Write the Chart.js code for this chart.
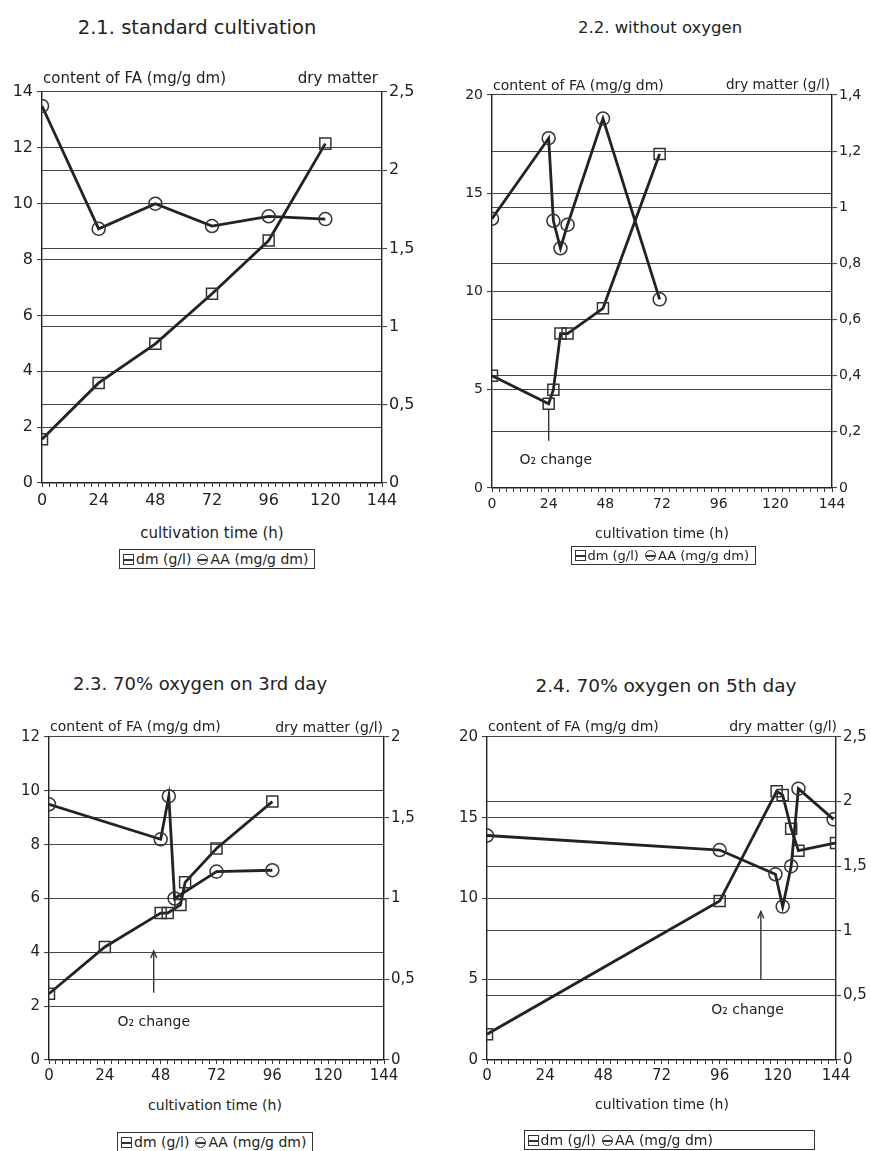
<!DOCTYPE html>
<html><head><meta charset="utf-8">
<script src="https://cdn.jsdelivr.net/npm/chart.js@4.4.1/dist/chart.umd.min.js"></script>
<style>
body{margin:0;background:#fff;width:871px;height:1151px;position:relative;overflow:hidden;font-family:"DejaVu Sans",sans-serif;color:#222}
.t{position:absolute;white-space:nowrap;line-height:1}
canvas{position:absolute}
.lg{position:absolute;border:1px solid #333;white-space:nowrap;padding:2px 6px 2px 3px;line-height:1;color:#222}
.sq,.ci{display:inline-block;width:9px;height:9px;border:1px solid #333;vertical-align:-1px;margin-right:2px;
 background:linear-gradient(#333,#333) center/100% 2px no-repeat}
.ci{border-radius:50%;margin-left:6px}
</style></head><body>
<script>
// ---------- data ----------
const xTickLabels = [0,24,48,72,96,120,144];

// 2.1 standard cultivation
const p1_aa_t = [0,24,48,72,96,120];
const p1_aa   = [13.5,9.1,10.0,9.2,9.55,9.45];
const p1_dm_t = [0,24,48,72,96,120];
const p1_dm   = [0.28,0.64,0.89,1.21,1.55,2.17];
const p1_left_ticks  = [0,2,4,6,8,10,12,14];
const p1_right_ticks = [0,0.5,1,1.5,2,2.5];

// 2.2 without oxygen
const p2_aa_t = [0,24,26,29,32,47,71];
const p2_aa   = [13.7,17.8,13.6,12.2,13.4,18.8,9.6];
const p2_dm_t = [0,24,26,29,32,47,71];
const p2_dm   = [0.40,0.30,0.35,0.55,0.55,0.64,1.19];
const p2_left_ticks  = [0,5,10,15,20];
const p2_right_ticks = [0,0.2,0.4,0.6,0.8,1,1.2,1.4];

// 2.3 70% oxygen on 3rd day
const p3_aa_t = [0,48,51.5,54,72,96];
const p3_aa   = [9.5,8.2,9.8,6.0,7.0,7.05];
const p3_dm_t = [0,24,48,51,56.5,58.5,72,96];
const p3_dm   = [0.41,0.70,0.91,0.91,0.96,1.10,1.31,1.60];
const p3_left_ticks  = [0,2,4,6,8,10,12];
const p3_right_ticks = [0,0.5,1,1.5,2];

// 2.4 70% oxygen on 5th day
const p4_aa_t = [0,96,119,122,125.5,128.5,143];
const p4_aa   = [13.9,13.0,11.5,9.5,12.0,16.8,14.9];
const p4_dm_t = [0,96,119.5,122,125.5,128.5,144];
const p4_dm   = [0.20,1.23,2.08,2.05,1.79,1.62,1.68];
const p4_left_ticks  = [0,5,10,15,20];
const p4_right_ticks = [0,0.5,1,1.5,2,2.5];

const titles = ["2.1. standard cultivation","2.2. without oxygen","2.3. 70% oxygen on 3rd day","2.4. 70% oxygen on 5th day"];
const leftHeader = "content of FA (mg/g dm)";
const rightHeaders = ["dry matter","dry matter (g/l)","dry matter (g/l)","dry matter (g/l)"];
const xTitle = "cultivation time (h)";
const noteText = "O\u2082 change";

// ---------- helpers ----------
const zip = (t,v) => t.map((x,i)=>({x, y:v[i]}));
const fmtComma = v => String(Math.round(v*10)/10).replace('.',',');
const INK = '#222';

const notePlugin = {
  id:'note',
  afterDatasetsDraw(chart, args, o){
    if(!o || o.x === undefined) return;
    const c = chart.ctx, xs = chart.scales.x, ys = chart.scales.yL;
    const x = xs.getPixelForValue(o.x);
    const y0 = ys.getPixelForValue(o.from), y1 = ys.getPixelForValue(o.to);
    c.save();
    c.strokeStyle = '#333'; c.lineWidth = 1.4;
    c.beginPath(); c.moveTo(x,y0); c.lineTo(x,y1); c.stroke();
    if(o.arrow){
      c.beginPath(); c.moveTo(x-3,y1+7); c.lineTo(x,y1); c.lineTo(x+3,y1+7); c.stroke();
    }
    c.fillStyle = INK; c.font = o.font; c.textAlign='center'; c.textBaseline='middle';
    c.fillText(noteText, xs.getPixelForValue(o.tx), ys.getPixelForValue(o.ty));
    c.restore();
  }
};

function addText(txt, x, y, size, align){
  const d = document.createElement('div');
  d.className='t'; d.textContent = txt; d.style.fontSize = size+'px';
  d.style.top = (y - size/2) + 'px';
  if(align==='center'){ d.style.left = x+'px'; d.style.transform='translateX(-50%)'; }
  else if(align==='right'){ d.style.right = (871-x)+'px'; }
  else d.style.left = x+'px';
  document.body.appendChild(d);
}
function addLegend(cx, top, size, minW){
  const d = document.createElement('div');
  d.className='lg'; d.style.fontSize=size+'px'; d.style.top=top+'px';
  d.innerHTML = '<span class="sq"></span>dm (g/l)<span class="ci"></span>AA (mg/g dm)';
  document.body.appendChild(d);
  if(minW) d.style.width = minW+'px';
  d.style.left = (cx - d.offsetWidth/2) + 'px';
}

function panel(g){
  const cv = document.createElement('canvas');
  cv.width = g.cw; cv.height = g.ch;
  cv.style.left = g.cx+'px'; cv.style.top = g.cy+'px';
  cv.style.width = g.cw+'px'; cv.style.height = g.ch+'px';
  document.body.appendChild(cv);
  const tickFont = {family:'DejaVu Sans', size:g.tf};
  new Chart(cv, {
    type:'line',
    data:{datasets:[
      {label:'AA (mg/g dm)', data:zip(g.aaT,g.aa), yAxisID:'yL',
       borderColor:INK, borderWidth:2.8, tension:0, fill:false,
       pointStyle:'circle', pointRadius:6.5, pointBorderWidth:1.5,
       pointBorderColor:'#333', pointBackgroundColor:'rgba(0,0,0,0)'},
      {label:'dm (g/l)', data:zip(g.dmT,g.dm), yAxisID:'yR',
       borderColor:INK, borderWidth:2.8, tension:0, fill:false,
       pointStyle:'rect', pointRadius:7.8, pointBorderWidth:1.5,
       pointBorderColor:'#333', pointBackgroundColor:'rgba(0,0,0,0)'}
    ]},
    options:{
      responsive:false, animation:false, devicePixelRatio:1,
      layout:{autoPadding:false, padding:{top:g.pt, left:0, right:0, bottom:0}},
      plugins:{legend:{display:false}, tooltip:{enabled:false}, note:g.note},
      scales:{
        x:{type:'linear', min:0, max:144,
           afterBuildTicks:s=>{ const a=[]; for(let v=0; v<=144; v+=3) a.push({value:v}); s.ticks=a; },
           ticks:{autoSkip:false, maxRotation:0, color:INK, font:tickFont, padding:g.xp,
                  callback:v=> xTickLabels.includes(v) ? String(v) : ''},
           grid:{drawOnChartArea:false, drawTicks:true, tickLength:4, color:'#333', lineWidth:1},
           border:{color:'#222', width:1.4},
           afterFit:s=>{ s.height = g.xh; }},
        yL:{type:'linear', position:'left', min:0, max:g.lMax,
           afterBuildTicks:s=>{ s.ticks = g.lT.map(v=>({value:v})); },
           ticks:{color:INK, font:tickFont, padding:4, callback:v=>String(v)},
           grid:{color:'#444', lineWidth:1.1, tickLength:5},
           border:{color:'#222', width:1.4},
           afterFit:s=>{ s.width = g.lw; }},
        yR:{type:'linear', position:'right', min:0, max:g.rMax,
           afterBuildTicks:s=>{ s.ticks = g.rT.map(v=>({value:v})); },
           ticks:{color:INK, font:tickFont, padding:2, callback:v=>fmtComma(v)},
           grid:{color:'#444', lineWidth:1.1, tickLength:5},
           border:{color:'#222', width:1.4},
           afterFit:s=>{ s.width = g.rw; }}
      }
    },
    plugins:[notePlugin]
  });
}

// ---------- panels ----------
// 2.1
panel({cx:0, cy:60, cw:430, ch:460, pt:32, lw:42, rw:48, xh:37, xp:4, tf:16,
  lMax:14, rMax:2.5, lT:p1_left_ticks, rT:p1_right_ticks,
  aaT:p1_aa_t, aa:p1_aa, dmT:p1_dm_t, dm:p1_dm, note:{}});
addText(titles[0], 197, 28, 19.5, 'center');
addText(leftHeader, 43, 78, 15, 'left');
addText(rightHeaders[0], 378, 78, 15, 'right');
addText(xTitle, 212, 533, 15, 'center');
addLegend(217, 549, 14);

// 2.2
panel({cx:440, cy:60, cw:431, ch:470, pt:35, lw:52, rw:39, xh:42, xp:4, tf:14,
  lMax:20, rMax:1.4, lT:p2_left_ticks, rT:p2_right_ticks,
  aaT:p2_aa_t, aa:p2_aa, dmT:p2_dm_t, dm:p2_dm,
  note:{x:24, from:4.0, to:2.4, arrow:false, tx:27, ty:1.4, font:'14px "DejaVu Sans"'}});
addText(titles[1], 660, 28, 16.5, 'center');
addText(leftHeader, 493, 85, 14, 'left');
addText(rightHeaders[1], 830, 85, 13.5, 'right');
addText(xTitle, 662, 533, 14, 'center');
addLegend(663, 546, 13);

// 2.3
panel({cx:0, cy:700, cw:430, ch:396, pt:37, lw:49, rw:46, xh:36, xp:3, tf:15,
  lMax:12, rMax:2, lT:p3_left_ticks, rT:p3_right_ticks,
  aaT:p3_aa_t, aa:p3_aa, dmT:p3_dm_t, dm:p3_dm,
  note:{x:45, from:2.5, to:4.05, arrow:true, tx:45, ty:1.4, font:'14px "DejaVu Sans"'}});
addText(titles[2], 200, 684, 18, 'center');
addText(leftHeader, 50, 726, 14, 'left');
addText(rightHeaders[2], 383, 727, 14, 'right');
addText(xTitle, 215, 1105, 14, 'center');
addLegend(215, 1132, 14);

// 2.4
panel({cx:440, cy:700, cw:431, ch:397, pt:37, lw:47, rw:35, xh:37, xp:3, tf:15,
  lMax:20, rMax:2.5, lT:p4_left_ticks, rT:p4_right_ticks,
  aaT:p4_aa_t, aa:p4_aa, dmT:p4_dm_t, dm:p4_dm,
  note:{x:113, from:5.0, to:9.2, arrow:true, tx:107.5, ty:3.05, font:'14px "DejaVu Sans"'}});
addText(titles[3], 666, 686, 18.5, 'center');
addText(leftHeader, 488, 726, 14, 'left');
addText(rightHeaders[3], 837, 726, 14, 'right');
addText(xTitle, 662, 1104, 14, 'center');
addLegend(669, 1130, 14, 280);
</script>
</body></html>
